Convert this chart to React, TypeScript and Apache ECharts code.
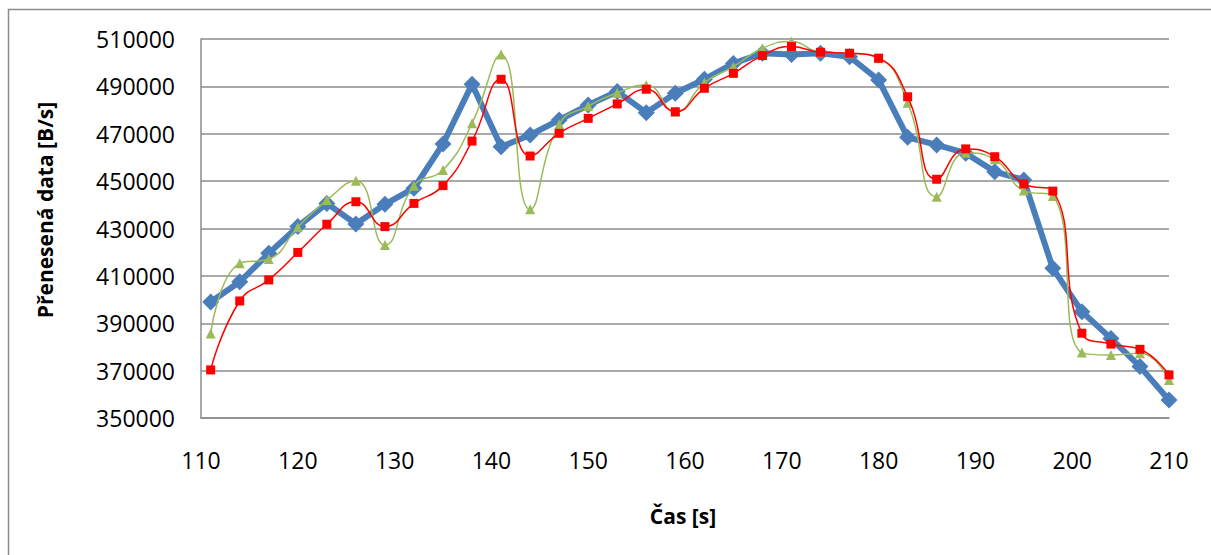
import React, { useEffect, useRef } from "react";
import * as echarts from "echarts";

const times = [111, 114, 117, 120, 123, 126, 129, 132, 135, 138, 141, 144, 147, 150, 153, 156, 159, 162, 165, 168, 171, 174, 177, 180, 183, 186, 189, 192, 195, 198, 201, 204, 207, 210];

const blueValues = [399000, 407500, 419500, 430800, 440600, 431900, 440200, 447000, 465700, 490900, 464500, 469500, 475800, 482100, 487800, 478900, 487100, 493000, 499700, 504000, 503500, 504000, 502500, 492700, 468500, 465300, 461800, 454000, 450500, 413200, 394900, 383600, 371700, 357600];

const redValues = [370300, 399400, 408300, 419900, 431800, 441300, 430800, 440600, 448100, 466900, 493000, 460600, 470200, 476500, 482600, 488800, 479300, 489200, 495500, 503000, 506800, 504400, 504000, 501900, 485600, 450800, 463600, 460300, 448800, 445800, 385800, 381200, 379000, 368200];

const greenValues = [385700, 415300, 417100, 430500, 442000, 450200, 423000, 448100, 454700, 474400, 503500, 438100, 474000, 481700, 487300, 490600, 479300, 491600, 498300, 506100, 508900, 504400, 504000, 501900, 483100, 443400, 462000, 459200, 446000, 443700, 377600, 376600, 377300, 366000];

const xTicks = { min: 110, max: 210, step: 10 };
const yTicks = { min: 350000, max: 510000, step: 20000 };

const FONT = "'Open Sans', 'Noto Sans', sans-serif";

export default function App() {
  const ref = useRef<HTMLDivElement>(null);

  useEffect(() => {
    document.body.style.margin = "0";
    if (!ref.current) return;
    const chart = echarts.init(ref.current, undefined, { renderer: "svg" });
    const pair = (vals: number[]) => times.map((t, i) => [t, vals[i]]);
    chart.setOption({
      animation: false,
      backgroundColor: "#ffffff",
      grid: { left: 201, right: 42, top: 39, bottom: 137, containLabel: false },
      graphic: [
        {
          type: "rect",
          shape: { x: 8.5, y: 9.5, width: 1240, height: 600 },
          style: { fill: "none", stroke: "#8c8c8c", lineWidth: 1.5 },
          silent: true,
        },
        {
          type: "text",
          x: 45,
          y: 210,
          rotation: Math.PI / 2,
          style: {
            text: "Přenesená data [B/s]",
            font: `bold 21px ${FONT}`,
            fill: "#000",
            align: "center",
            verticalAlign: "middle",
          },
        },
        {
          type: "text",
          x: 683,
          y: 516,
          style: {
            text: "Čas [s]",
            font: `bold 21px ${FONT}`,
            fill: "#000",
            align: "center",
            verticalAlign: "middle",
          },
        },
      ],
      xAxis: {
        type: "value",
        min: xTicks.min,
        max: xTicks.max,
        interval: xTicks.step,
        axisLine: { show: true, lineStyle: { color: "#8c8c8c", width: 1.5 } },
        axisTick: { show: false },
        splitLine: { show: false },
        axisLabel: { color: "#000", fontSize: 23, fontFamily: FONT, margin: 30, formatter: (v: number) => String(v) },
      },
      yAxis: {
        type: "value",
        min: yTicks.min,
        max: yTicks.max,
        interval: yTicks.step,
        axisLine: { show: true, lineStyle: { color: "#8c8c8c", width: 1.5 } },
        axisTick: { show: false },
        splitLine: { show: true, lineStyle: { color: "#8c8c8c", width: 1.5 } },
        axisLabel: { color: "#000", fontSize: 23, fontFamily: FONT, margin: 26, formatter: (v: number) => String(v) },
      },
      series: [
        {
          type: "line",
          name: "A",
          data: pair(blueValues),
          smooth: false,
          symbol: "diamond",
          symbolSize: 17,
          lineStyle: { color: "#4a7ebb", width: 6 },
          itemStyle: { color: "#4a7ebb" },
          z: 2,
        },
        {
          type: "line",
          name: "C",
          data: pair(greenValues),
          smooth: 0.5,
          symbol: "triangle",
          symbolSize: 10,
          lineStyle: { color: "#9bbb59", width: 1.5 },
          itemStyle: { color: "#9bbb59" },
          z: 3,
        },
        {
          type: "line",
          name: "B",
          data: pair(redValues),
          smooth: 0.5,
          symbol: "rect",
          symbolSize: 9,
          lineStyle: { color: "#ff0000", width: 1.5 },
          itemStyle: { color: "#ff0000" },
          z: 4,
        },
      ],
    });
    return () => chart.dispose();
  }, []);

  return <div ref={ref} style={{ width: 1211, height: 555 }} />;
}
